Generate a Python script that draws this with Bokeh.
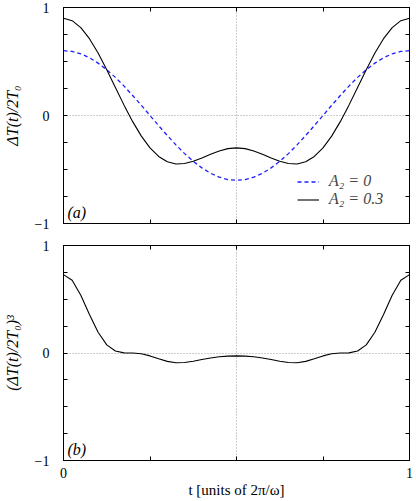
from bokeh.plotting import figure
from bokeh.layouts import column
from bokeh.models import (LinearAxis, FixedTicker, CustomJSTickFormatter, Label,
                          Legend, LegendItem, Range1d)
from bokeh.embed import file_html
from bokeh.resources import INLINE

# ---- data ----
t = [0.000, 0.025, 0.050, 0.075, 0.100, 0.125, 0.150, 0.175, 0.200, 0.225,
     0.250, 0.275, 0.300, 0.325, 0.350, 0.375, 0.400, 0.425, 0.450, 0.475,
     0.500, 0.525, 0.550, 0.575, 0.600, 0.625, 0.650, 0.675, 0.700, 0.725,
     0.750, 0.775, 0.800, 0.825, 0.850, 0.875, 0.900, 0.925, 0.950, 0.975,
     1.000]
dT_A2_0 = [0.600, 0.593, 0.571, 0.535, 0.485, 0.424, 0.353, 0.272, 0.185, 0.094,
           0.000, -0.094, -0.185, -0.272, -0.353, -0.424, -0.485, -0.535, -0.571, -0.593,
           -0.600, -0.593, -0.571, -0.535, -0.485, -0.424, -0.353, -0.272, -0.185, -0.094,
           0.000, 0.094, 0.185, 0.272, 0.353, 0.424, 0.485, 0.535, 0.571, 0.593,
           0.600]
dT_A2_03 = [0.900, 0.878, 0.813, 0.711, 0.578, 0.424, 0.260, 0.096, -0.057, -0.191,
            -0.300, -0.379, -0.428, -0.449, -0.445, -0.424, -0.393, -0.358, -0.328, -0.307,
            -0.300, -0.307, -0.328, -0.358, -0.393, -0.424, -0.445, -0.449, -0.428, -0.379,
            -0.300, -0.191, -0.057, 0.096, 0.260, 0.424, 0.578, 0.711, 0.813, 0.878,
            0.900]
dT_cubed = [0.729, 0.677, 0.537, 0.359, 0.193, 0.076, 0.018, 0.001, -0.000, -0.007,
            -0.027, -0.054, -0.078, -0.091, -0.088, -0.076, -0.061, -0.046, -0.035, -0.029,
            -0.027, -0.029, -0.035, -0.046, -0.061, -0.076, -0.088, -0.091, -0.078, -0.054,
            -0.027, -0.007, -0.000, 0.001, 0.018, 0.076, 0.193, 0.359, 0.537, 0.677,
            0.729]

x_labeled = [0, 1]
x_unlabeled = [0.25, 0.5, 0.75]
y_labeled = [-1, 0, 1]
y_unlabeled = [-0.75, -0.5, -0.25, 0.25, 0.5, 0.75]
y_tick_text = ["\u22121", "0", "1"]
x_tick_text = ["0", "1"]

legend_labels = ["A\u2082 = 0", "A\u2082 = 0.3"]
ylabel_top = "\u0394T(t)/2T\u2080"
ylabel_bottom = "(\u0394T(t)/2T\u2080)\u00b3"
xlabel = "t [units of 2\u03c0/\u03c9]"

FONT = "Liberation Serif"
W = 415


def fmt(ticks, texts):
    return CustomJSTickFormatter(args=dict(tk_pos=ticks, tk_txt=texts),
                                 code="const i = tk_pos.indexOf(tick); return i >= 0 ? tk_txt[i] : String(tick);")


def style_axis(ax, labeled, unlabeled, texts):
    # labeled positions get major ticks (with text), the rest are drawn as minor ticks
    ax.ticker = FixedTicker(ticks=labeled, minor_ticks=unlabeled)
    if labeled:
        ax.formatter = fmt(labeled, texts)
    ax.major_tick_in = 4
    ax.major_tick_out = 0
    ax.minor_tick_in = 4
    ax.minor_tick_out = 0
    ax.axis_line_color = "black"
    ax.major_tick_line_color = "black"
    ax.minor_tick_line_color = "black"
    ax.major_label_text_font = FONT
    ax.major_label_text_color = "black"
    ax.major_label_text_font_size = "14px"


def make_panel(ylabel, show_x_labels, height, top_border, bottom_border, tag):
    p = figure(width=W, height=height, output_backend="svg", toolbar_location=None,
               x_range=Range1d(0, 1), y_range=Range1d(-1, 1),
               min_border_left=61, min_border_right=6,
               min_border_top=top_border, min_border_bottom=bottom_border,
               background_fill_color="white", border_fill_color="white")
    p.outline_line_color = "black"
    p.outline_line_width = 1
    if show_x_labels:
        style_axis(p.xaxis[0], x_labeled, x_unlabeled, x_tick_text)
        p.xaxis[0].major_label_standoff = 7
        p.xaxis[0].axis_label = xlabel
        p.xaxis[0].axis_label_text_font = FONT
        p.xaxis[0].axis_label_text_font_style = "normal"
        p.xaxis[0].axis_label_text_font_size = "15px"
        p.xaxis[0].axis_label_standoff = 1
        p.xaxis[0].axis_label_text_color = "black"
    else:
        style_axis(p.xaxis[0], [], x_labeled + x_unlabeled, [])
    style_axis(p.yaxis[0], y_labeled, y_unlabeled, y_tick_text)
    p.yaxis[0].major_label_standoff = 14
    p.yaxis[0].axis_label = ylabel
    p.yaxis[0].axis_label_text_font = FONT
    p.yaxis[0].axis_label_text_font_style = "italic"
    p.yaxis[0].axis_label_text_font_size = "16px"
    p.yaxis[0].axis_label_standoff = 11
    p.yaxis[0].axis_label_text_color = "black"
    ra = LinearAxis()
    style_axis(ra, [], y_labeled + y_unlabeled, [])
    p.add_layout(ra, "right")
    ta = LinearAxis()
    style_axis(ta, [], x_labeled + x_unlabeled, [])
    p.add_layout(ta, "above")
    # grids: only the dotted lines at x = 0.5 and y = 0
    p.xgrid.ticker = FixedTicker(ticks=[0.5])
    p.ygrid.ticker = FixedTicker(ticks=[0])
    for g in (p.xgrid[0], p.ygrid[0]):
        g.grid_line_color = "#9a9a9a"
        g.grid_line_dash = "1 2"
        g.grid_line_width = 1
    p.add_layout(Label(x=4, y=3, x_units="screen", y_units="screen", text=tag,
                       text_font=FONT, text_font_style="italic", text_font_size="16px",
                       text_color="black"))
    return p


top = make_panel(ylabel_top, False, 234, 7, 11, "(a)")
r_blue = top.line(t, dT_A2_0, line_color="#2020ff", line_width=1.3, line_dash="4 3")
r_black = top.line(t, dT_A2_03, line_color="black", line_width=1.1)
leg = Legend(items=[LegendItem(label=legend_labels[0], renderers=[r_blue]),
                    LegendItem(label=legend_labels[1], renderers=[r_black])],
             location=(234, 15), padding=0, spacing=0, margin=0,
             label_height=17, glyph_height=17, glyph_width=22, label_standoff=10,
             label_text_font=FONT, label_text_font_style="italic",
             label_text_font_size="16px", background_fill_alpha=0, border_line_alpha=0)
top.add_layout(leg)

bottom = make_panel(ylabel_bottom, True, 266, 11, 39, "(b)")
bottom.line(t, dT_cubed, line_color="black", line_width=1.1)

layout = column(top, bottom, spacing=0)
open("out.html", "w").write(file_html(layout, INLINE))
